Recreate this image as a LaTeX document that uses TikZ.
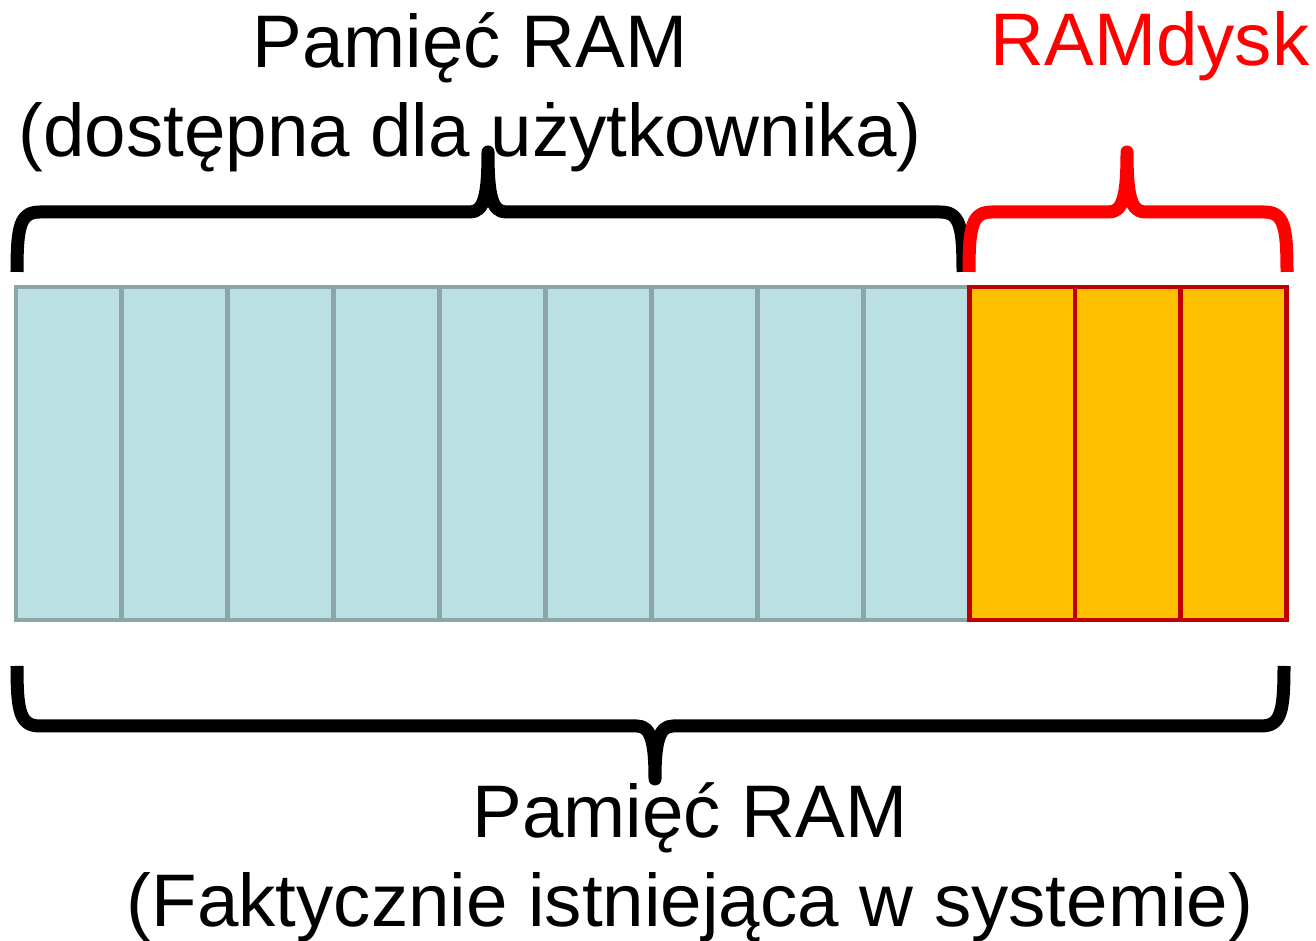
\documentclass[tikz,border=0pt]{standalone}
\usepackage{fontspec}
\setmainfont{Liberation Sans}
\definecolor{cellblue}{RGB}{187,224,227}
\definecolor{cellgray}{RGB}{140,166,168}
\definecolor{diskorange}{RGB}{255,192,0}
\definecolor{diskred}{RGB}{192,0,0}
\definecolor{labelred}{RGB}{255,0,0}

\begin{document}
\begin{tikzpicture}[
  brace/.style={line width=3.7pt, line join=round},
  label/.style={font=\fontsize{21.2}{25.6}\selectfont, align=center, anchor=base, inner sep=0pt}
]
  \useasboundingbox (0,0) rectangle (13.16,9.41);
  % memory cells
  \foreach \i in {0,...,8}
    \draw[fill=cellblue, draw=cellgray, line width=1.4pt] ({0.16+1.059*\i},3.21) rectangle ++(1.059,3.33);
  \foreach \i in {9,10,11}
    \draw[fill=diskorange, draw=diskred, line width=1.4pt] ({0.16+1.059*\i},3.21) rectangle ++(1.059,3.33);
  % labels (base = last line)
  \node[label] (userram) at (4.70,7.84) {Pamięć RAM\\(dostępna dla użytkownika)};
  \node[label, labelred] (ramdisk) at (11.50,8.75) {RAMdysk};
  \node[label] (totalram) at (6.90,0.14) {Pamięć RAM\\(Faktycznie istniejąca w systemie)};
  % braces
  \draw[brace] (0.17,6.69) .. controls (0.17,7.15) and (0.20,7.29) .. (0.40,7.29)
    -- (4.70,7.29) .. controls (4.84,7.29) and (4.88,7.45) .. (4.88,7.89)
    .. controls (4.88,7.45) and (4.92,7.29) .. (5.06,7.29) -- (9.40,7.29)
    .. controls (9.60,7.29) and (9.63,7.15) .. (9.63,6.69);
  \draw[brace, labelred] (9.69,6.69) .. controls (9.69,7.15) and (9.72,7.29) .. (9.92,7.29)
    -- (11.09,7.29) .. controls (11.23,7.29) and (11.27,7.45) .. (11.27,7.89)
    .. controls (11.27,7.45) and (11.31,7.29) .. (11.45,7.29) -- (12.64,7.29)
    .. controls (12.84,7.29) and (12.87,7.15) .. (12.87,6.69);
  \draw[brace] (0.17,2.75) .. controls (0.17,2.29) and (0.20,2.15) .. (0.40,2.15)
    -- (6.37,2.15) .. controls (6.51,2.15) and (6.55,1.99) .. (6.55,1.62)
    .. controls (6.55,1.99) and (6.59,2.15) .. (6.73,2.15) -- (12.61,2.15)
    .. controls (12.81,2.15) and (12.84,2.29) .. (12.84,2.75);
\end{tikzpicture}
\end{document}
